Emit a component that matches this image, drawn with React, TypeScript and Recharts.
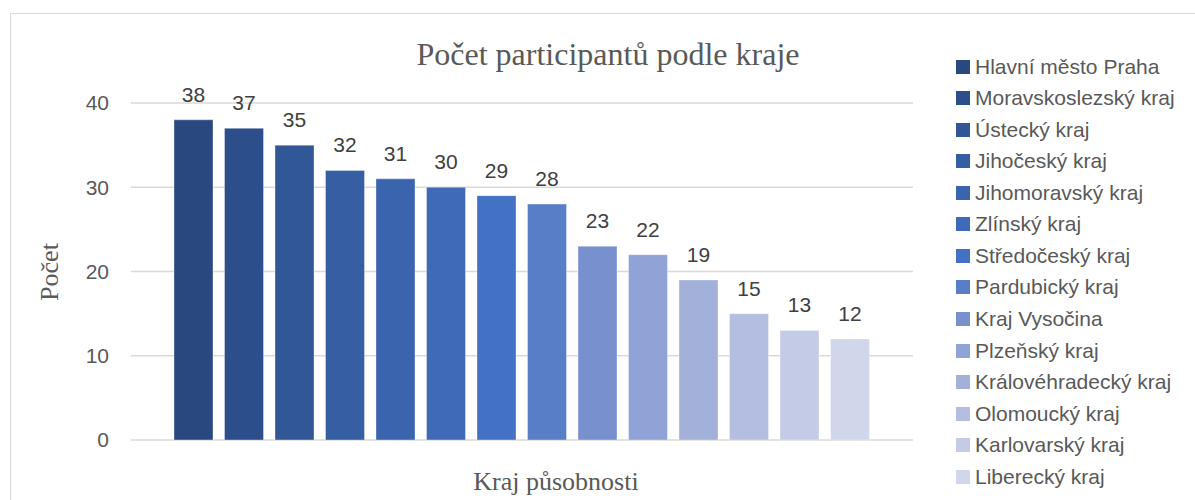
import { BarChart, Bar, XAxis, YAxis, CartesianGrid, LabelList } from 'recharts';

// kraje seřazené podle počtu participantů
const REGIONS = [
  'Hlavní město Praha',
  'Moravskoslezský kraj',
  'Ústecký kraj',
  'Jihočeský kraj',
  'Jihomoravský kraj',
  'Zlínský kraj',
  'Středočeský kraj',
  'Pardubický kraj',
  'Kraj Vysočina',
  'Plzeňský kraj',
  'Královéhradecký kraj',
  'Olomoucký kraj',
  'Karlovarský kraj',
  'Liberecký kraj',
];

const COUNTS = [38, 37, 35, 32, 31, 30, 29, 28, 23, 22, 19, 15, 13, 12];

const COLORS = [
  '#294880', '#2c4f8c', '#315796', '#355ea3', '#3a64ae', '#3e6ab8', '#4371c3',
  '#587ec8', '#7890ce', '#8fa3d6', '#a2b0da', '#b4bee0', '#c4cbe6', '#d1d7eb',
];

const Y_TICKS = [0, 10, 20, 30, 40];

const SANS = '"Liberation Sans", Arial, sans-serif';
const SERIF = '"Liberation Serif", "Times New Roman", serif';

export default function App() {
  // jedna kategorie, každý kraj jako samostatná řada (jako v Excelu)
  const row: Record<string, number | string> = { name: 'Kraj' };
  REGIONS.forEach((r, i) => {
    row[r] = COUNTS[i];
  });
  const data = [row];

  return (
    <div
      style={{
        position: 'absolute',
        left: 0,
        top: 0,
        width: 1195,
        height: 500,
        overflow: 'hidden',
        background: '#fff',
      }}
    >
      {/* rámeček grafu */}
      <div
        style={{
          position: 'absolute',
          left: 10,
          top: 13,
          width: 1220,
          height: 520,
          border: '1.5px solid #d9d9d9',
        }}
      />

      <div
        style={{
          position: 'absolute',
          left: 608,
          top: 34,
          transform: 'translateX(-50%)',
          whiteSpace: 'nowrap',
          fontFamily: SERIF,
          fontSize: 32,
          lineHeight: '40px',
          color: '#595959',
        }}
      >
        Počet participantů podle kraje
      </div>

      <div
        style={{
          position: 'absolute',
          left: 50,
          top: 272,
          transform: 'translate(-50%, -50%) rotate(-90deg)',
          whiteSpace: 'nowrap',
          fontFamily: SERIF,
          fontSize: 26,
          lineHeight: '30px',
          color: '#595959',
        }}
      >
        Počet
      </div>

      <div
        style={{
          position: 'absolute',
          left: 556,
          top: 482,
          transform: 'translate(-50%, -50%)',
          whiteSpace: 'nowrap',
          fontFamily: SERIF,
          fontSize: 26,
          lineHeight: '30px',
          color: '#595959',
        }}
      >
        Kraj působnosti
      </div>

      <div style={{ position: 'absolute', left: 0, top: 0 }}>
        <BarChart
          width={1195}
          height={500}
          data={data}
          margin={{ top: 103, right: 282, bottom: 60, left: 51 }}
          barSize={39}
          barGap={11.5}
        >
          <CartesianGrid vertical={false} stroke="#d9d9d9" strokeWidth={1.5} />
          <XAxis dataKey="name" hide />
          <YAxis
            domain={[0, 40]}
            ticks={Y_TICKS}
            width={80}
            tickSize={0}
            tickMargin={22}
            tickLine={false}
            axisLine={false}
            tick={{ fontSize: 21, fill: '#595959', fontFamily: SANS }}
          />
          {REGIONS.map((r, i) => (
            <Bar
              key={r}
              dataKey={r}
              fill={COLORS[i]}
              stroke="#ffffff"
              strokeOpacity={0.35}
              strokeWidth={1}
              isAnimationActive={false}
            >
              <LabelList
                dataKey={r}
                position="top"
                offset={18}
                style={{ fontSize: 21, fill: '#404040', fontFamily: SANS }}
              />
            </Bar>
          ))}
        </BarChart>
      </div>

      {/* legenda */}
      <div style={{ position: 'absolute', left: 956, top: 51 }}>
        {REGIONS.map((r, i) => (
          <div
            key={r}
            style={{
              display: 'flex',
              alignItems: 'center',
              height: 31.54,
              whiteSpace: 'nowrap',
              fontFamily: SANS,
              fontSize: 21,
              color: '#595959',
            }}
          >
            <span
              style={{
                display: 'inline-block',
                width: 14,
                height: 14,
                background: COLORS[i],
                marginRight: 5,
              }}
            />
            {r}
          </div>
        ))}
      </div>
    </div>
  );
}
